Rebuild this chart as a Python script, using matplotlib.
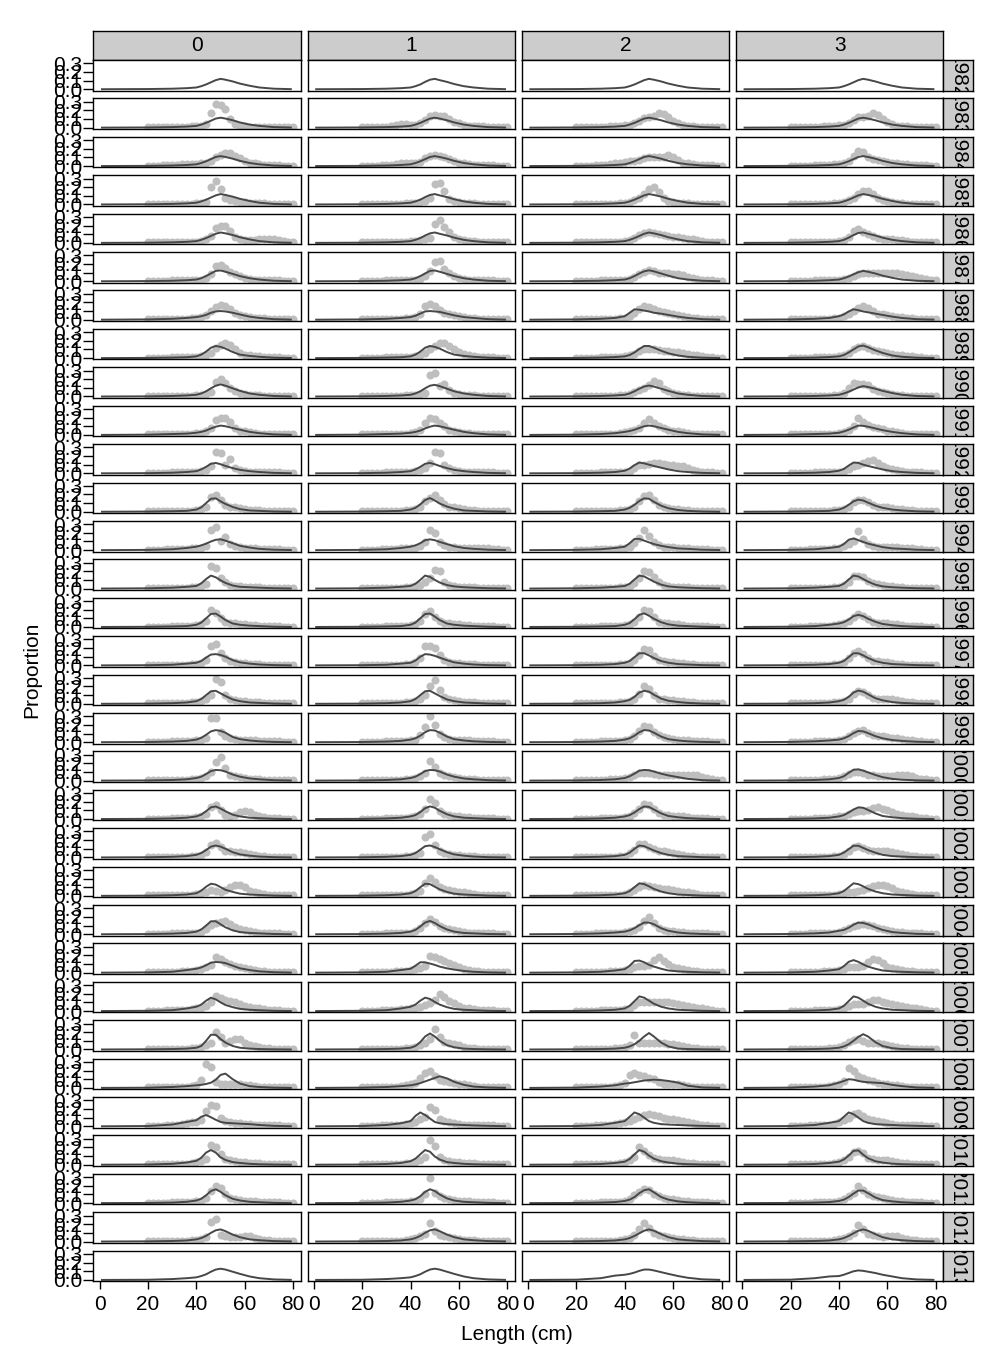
import numpy as np
import matplotlib
matplotlib.use("Agg")
import matplotlib.pyplot as plt

plt.rcParams['font.family'] = ['Liberation Sans', 'DejaVu Sans']

years = list(range(1982, 2014))
seasons = ["0", "1", "2", "3"]

# model curve vertices (cm) and observed length bins (cm)
line_len = [1, 20, 30, 36, 40, 42, 44, 46, 48, 50, 52, 55, 58, 62, 66, 72, 79]
obs_len = [20, 22, 24, 26, 28, 30, 32, 34, 36, 38, 40, 42, 44, 46, 48, 50,
           52, 54, 56, 58, 60, 62, 64, 66, 68, 70, 72, 74, 76, 78, 80]

# proportions in percent, one row per year 1982..2013
line_s0 = [
    [0,.2,.6,1.2,2, 3.5,5.5,8,10.5,12, 11,9,6.5,4,2, .6,.1],
    [0,.2,.6,1.2,2, 3.5,5.5,8,10.5,11.5, 10.5,8.5,6,3.5,2, .6,.1],
    [0,.2,.6,1.2,2, 3.5,5.5,8,10.5,11.5, 10.5,8.5,6,3.5,2, .6,.1],
    [0,.2,.6,1.2,2, 3.5,5.5,8,10.5,12, 11,9,6.5,4,2, .6,.1],
    [0,.2,.6,1.2,2, 3.5,5.5,8,10.5,12, 11,9,6.5,4,2, .6,.1],
    [0,.2,.6,1.2,2, 3.5,6,9,12,12.5, 11,8.5,6,3.5,2, .6,.1],
    [0,.3,1,2,3, 4,5.5,8,9.5,10, 9.5,8,6,3.5,2, .6,.1],
    [0,.2,.6,1,2, 4,7.5,12,14,13, 11,7,4,2.5,1.5, .5,.1],
    [0,.2,.6,1.2,2, 3.5,6,9.5,12.5,14, 12.5,9.5,6.5,3.5,2, .6,.1],
    [0,.3,1,1.5,2.5, 3.5,5,7.5,9.5,10.8, 10,8,6,3.5,2, .6,.1],
    [0,.2,.7,1.5,2.5, 4.5,7.5,11,12,10.5, 8.5,6,4,2.5,1.5, .5,.1],
    [0,.2,.6,1,2.5, 5,10,15,15.5,12, 9,5.5,3,1.5,1, .3,0],
    [0,.3,1,2.5,4, 5.5,7.5,10,12,12.5, 11,8,5,3,1.5, .5,.1],
    [0,.3,1,2,3, 6,11,15,13,9.5, 6.5,3.5,2,1.5,1, .4,.1],
    [0,.2,.6,1,2.5, 5,10,15,15.5,12, 8,4,2.5,1.5,1, .3,0],
    [0,.2,.7,2,3, 5,9,12.5,13,12, 10,6,3.5,2,1, .3,0],
    [0,.2,.7,1.5,3, 5.5,10,14.5,15,12, 9,5,3,1.5,1, .3,0],
    [0,.2,.7,1.5,3, 5,8.5,12.5,14,13, 11,6,3.5,2,1, .3,0],
    [0,.2,.7,1.5,3, 4.5,7.5,11,12.3,12, 10.5,7,4.5,2.5,1.5, .5,.1],
    [0,.2,.7,1.5,3, 5,9,13.5,14.5,12, 9,5,3,1.5,1, .3,0],
    [0,.2,.7,1.5,3, 5,8.5,12.5,13.8,12.5, 10,6,3.5,2,1, .3,0],
    [0,.2,.7,1.5,3, 6,10.5,14,13,10, 7,4.5,2.5,1.5,1, .3,0],
    [0,.2,.7,1.5,3, 5.5,10,15,15,11.5, 8,4.5,2.5,1.5,1, .3,0],
    [0,.3,1,3,4.5, 6,8.5,11.5,12.3,12, 11,8,5,3,1.5, .5,.1],
    [0,.3,1,3,5, 7.5,12,15.5,13.5,10, 7,4.5,2.5,1.5,1, .3,0],
    [0,.2,.5,1,2, 4,10,17,17,12, 8,4,2,1,.5, .2,0],
    [0,.2,1,2,3, 3.5,4.5,6,9.5,15, 16.5,10,5,2,1, .3,0],
    [0,.3,2,5,7, 11,13,10.5,7.5,5, 4,3.5,3,2.5,1.5, .5,.1],
    [0,.2,1,2.5,4.5, 8,14,17,14,8.5, 5.5,3,2,1,.5, .2,0],
    [0,.2,.6,1.5,3, 5,9,14,16,13, 9,5,3,1.5,1, .3,0],
    [0,.2,.6,1.2,2.5, 4,6.5,10,13,14, 12,8,5,2.5,1.5, .5,.1],
    [0,.2,1,2,3, 4.5,6.5,9.5,12,13, 12,9.5,7,4,2, .6,.1],
]
line_s1 = [
    [0,.2,.6,1.2,2, 3.5,5.5,8.5,11,12, 10.5,8.5,6,3.5,2, .6,.1],
    [0,.2,.6,1.2,2, 3.5,5.5,8,10.5,11.5, 10.5,8.5,6,3.5,2, .6,.1],
    [0,.2,.6,1.2,2, 3.5,5.5,8,10.5,11.5, 10.5,8.5,6,3.5,2, .6,.1],
    [0,.2,.6,1.2,2, 3.5,5.5,8.5,11,12, 10.5,8.5,6,3.5,2, .6,.1],
    [0,.2,.6,1.2,2, 3.5,5.5,8.5,11,12, 10.5,8.5,6,3.5,2, .6,.1],
    [0,.2,.6,1.2,2, 3.5,6,9,12,12.5, 11,8.5,6,3.5,2, .6,.1],
    [0,.3,1,2,3, 4.5,7,9.5,10,9.5, 9,7,5,3,2, .6,.1],
    [0,.2,.6,1,2, 4,7.5,12,14,13, 11,7,4,2.5,1.5, .5,.1],
    [0,.2,.6,1.2,2, 3.5,6,9.5,12.5,13.5, 12,9,6,3.5,2, .6,.1],
    [0,.3,1,1.5,2.5, 3.5,5,7.5,9.5,10.8, 10,8,6,3.5,2, .6,.1],
    [0,.2,.7,1.5,2.5, 4.5,7.5,11,12,10.5, 8.5,6,4,2.5,1.5, .5,.1],
    [0,.2,.6,1,2.5, 4.5,8.5,13.5,15.8,13, 9.5,6,3.5,1.5,1, .3,0],
    [0,.3,1,2.5,4, 5.5,8,11.5,12.5,11.5, 9.5,7,4.5,2.5,1.5, .5,.1],
    [0,.3,1,2,3, 5.5,10,15,13.5,10, 7,4,2.5,1.5,1, .4,.1],
    [0,.2,.6,1,2.5, 5,10,15,15.5,12, 8,4,2.5,1.5,1, .3,0],
    [0,.2,.7,2,3, 5.5,10,13,12.5,11, 9,6,3.5,2,1, .3,0],
    [0,.2,.7,1.5,3, 5.5,10,14.5,15,12, 9,5,3,1.5,1, .3,0],
    [0,.2,.7,1.5,3, 4.5,7.5,11.5,14,13.5, 11,6.5,3.5,2,1, .3,0],
    [0,.2,.7,1.5,3, 4.5,7.5,11,12.3,12, 10.5,7,4.5,2.5,1.5, .5,.1],
    [0,.2,.7,1.5,3, 4.5,8,12.5,14.6,13, 9.5,5.5,3,1.5,1, .3,0],
    [0,.2,.7,1.5,3, 5,9,13,13.8,12, 9.5,6,3.5,2,1, .3,0],
    [0,.2,.7,1.5,3, 5.5,10,14,13.5,10.5, 7.5,4.5,2.5,1.5,1, .3,0],
    [0,.2,.7,1.5,3, 5,9,13.5,15.4,13, 9.5,5.5,3,1.5,1, .3,0],
    [0,.3,1,3,4.5, 8,12,12,10.5,9, 7,5,3.5,2,1, .3,0],
    [0,.3,1,3,5, 7.5,12,15.5,14,10.5, 7.5,4.5,2.5,1.5,1, .3,0],
    [0,.2,.5,1,2, 4,8.5,15,18.5,15, 10,5,2.5,1,.5, .2,0],
    [0,.3,1,2,3, 4,5.5,7.5,9.5,11.5, 13.5,11,7,3.5,1.5, .5,.1],
    [0,.3,1.5,3.5,6, 12,16,13,9,5, 3.5,2.5,2,1.5,1, .5,.1],
    [0,.2,.8,2,4, 7,12,17,15,9.5, 6,3,2,1,.5, .2,0],
    [0,.2,.6,1.5,3, 4.5,8,13,16,14, 10,5.5,3,1.5,1, .3,0],
    [0,.2,.6,1.2,2.5, 4,6.5,10,13,14, 12,8,5,2.5,1.5, .5,.1],
    [0,.2,1,2,3, 4.5,6.5,9.5,12,13, 12,9.5,7,4,2, .6,.1],
]
line_s2 = [
    [0,.2,.6,1.2,2, 3.5,5.5,8,10.5,12, 11,9,6.5,4,2, .6,.1],
    [0,.2,.6,1.2,2, 3.5,5.5,8,10.5,11.5, 10.5,8.5,6,3.5,2, .6,.1],
    [0,.2,.6,1.2,2, 3.5,5.5,8,10.5,11.5, 10.5,8.5,6,3.5,2, .6,.1],
    [0,.2,.6,1.2,2, 3.5,5.5,8,10.5,12, 11,9,6.5,4,2, .6,.1],
    [0,.2,.6,1.2,2, 3.5,5.5,8,10.5,12, 11,9,6.5,4,2, .6,.1],
    [0,.2,.6,1.2,2, 3.5,6,9,11.5,12.7, 11.5,9,6.5,3.5,2, .6,.1],
    [0,.3,1,2,4, 8,12,11.5,10.5,9.5, 8,7,5.5,3.5,2, .6,.1],
    [0,.2,.6,1.2,2, 3.5,6.5,10.5,14,14, 12,8.5,5.5,3,1.5, .5,.1],
    [0,.2,.6,1.2,2, 3.5,6,9,11.5,12.7, 11.5,9,6.5,3.5,2, .6,.1],
    [0,.3,1,2,3.5, 4.5,6,8,10,10.8, 10,8,6,3.5,2, .6,.1],
    [0,.2,.7,1.5,3, 5.5,9.5,12.5,11.5,10, 8.5,6.5,4.5,2.5,1.5, .5,.1],
    [0,.2,.6,1,2.5, 4.5,8,12.5,15.5,15, 11.5,7,4,2,1, .3,0],
    [0,.3,1,2.5,4, 8,13,13,11,9, 7,5,3.5,2,1.5, .5,.1],
    [0,.3,1,2,3, 5.5,10.5,15,14,11, 8,4.5,2.5,1.5,1, .4,.1],
    [0,.2,.6,1,2.5, 4.5,9,14,15.8,13, 9.5,5.5,3,1.5,1, .3,0],
    [0,.2,.7,1.5,3, 5,9.5,14,14,11.5, 8.5,5,3,1.5,1, .3,0],
    [0,.2,.7,1.5,3, 4.5,8,13,15,14, 10.5,6,3.5,2,1, .3,0],
    [0,.2,.7,1.5,3, 4.5,7.5,11.5,14,13.5, 11,6.5,3.5,2,1, .3,0],
    [0,.2,.7,1.5,3, 5,8,11.5,12.3,12, 10.5,8,6,4,2, .5,.1],
    [0,.2,.7,1.5,3, 4.5,7.5,11.5,14.5,14, 11,6.5,3.5,2,1, .3,0],
    [0,.2,.7,1.5,3, 5.5,10,13.8,13,10.5, 8,5,3,1.5,1, .3,0],
    [0,.2,.7,1.5,3, 5.5,10,14.5,13.5,11, 8,5,3,1.5,1, .3,0],
    [0,.3,1,2,3, 4.5,7,10.5,13.5,13.5, 11.5,7,4,2,1, .3,0],
    [0,.3,1,2.5,4, 8,13.5,14,12,9, 7,4.5,2.5,1.5,1, .4,.1],
    [0,.2,.7,1.5,3, 6,11.5,17,15.5,12, 8.5,5,3,1.5,1, .3,0],
    [0,.2,.5,1,2, 3.5,6,10,15,19, 15,8,3.5,1,.5, .2,0],
    [0,.3,1.5,3,5, 5.5,6.5,7.5,8.5,9, 9.5,9,8,6,2.5, .5,.1],
    [0,.3,1.5,4,6, 11,16,14,10,6, 4,2.5,2,1.5,1, .5,.1],
    [0,.2,.8,2,3.5, 6.5,12,17,15,10.5, 7,4,2.5,1.2,.6, .2,0],
    [0,.2,.6,1.2,2.5, 4,7,11.5,15,16, 12.5,7,4,2,1, .3,0],
    [0,.2,.6,1.2,2.5, 4,6.5,9.5,12.5,14, 12.5,8.5,5,2.5,1.5, .5,.1],
    [0,.3,2,5,6, 7,8.5,10.5,12,12, 11,9,7,4.5,2.5, .7,.1],
]
line_s3 = [
    [0,.2,.6,1.2,2, 3.5,5.5,8,10.5,12, 11,9,6.5,4,2, .6,.1],
    [0,.2,.6,1.2,2, 3.5,5.5,8,10.5,11.5, 10.5,8.5,6,3.5,2, .6,.1],
    [0,.2,.6,1.2,2, 3.5,5.5,8,10.5,11.5, 10.5,8.5,6,3.5,2, .6,.1],
    [0,.2,.6,1.2,2, 3.5,5.5,8,10.5,12, 11,9,6.5,4,2, .6,.1],
    [0,.2,.6,1.2,2, 3.5,6,9,11.5,12, 10.5,8.5,6,3.5,2, .6,.1],
    [0,.2,.6,1.2,2, 3.5,5.5,8,10.5,12, 11,9,6.5,4,2, .6,.1],
    [0,.3,1,2,4, 6,9.5,12,11,9.5, 8.5,7,5.5,3.5,2, .6,.1],
    [0,.2,.6,1.2,2, 3.5,6.5,10,13.5,14.5, 12.5,9,6,3,1.5, .5,.1],
    [0,.2,.6,1.2,2, 3.5,5.5,8,10.5,12, 11,9,6.5,4,2, .6,.1],
    [0,.3,1,1.5,2.5, 4,6,8.5,10.8,10.5, 9.5,7.5,5.5,3.5,2, .6,.1],
    [0,.2,.7,1.5,3, 5,9,12.5,12,10, 8.5,6.5,4.5,2.5,1.5, .5,.1],
    [0,.2,.6,1,2.5, 4.5,8,12,14,13, 10.5,7,4.5,2.5,1.5, .5,.1],
    [0,.3,1,2.5,4, 7,12,13.5,11.5,9.5, 7.5,5.5,3.5,2,1.5, .5,.1],
    [0,.3,1,2,3, 5.5,10.5,15,14,11, 8,4.5,2.5,1.5,1, .4,.1],
    [0,.3,1,2.5,4, 5.5,8.5,12.5,14,12.5, 9.5,6,3.5,2,1, .3,0],
    [0,.2,.7,1.5,3, 5,9.5,14,14,11.5, 8.5,5,3,1.5,1, .3,0],
    [0,.2,.7,1.5,3, 4.5,8,13,15.3,14, 11,6.5,4,2,1, .3,0],
    [0,.3,1,2,3, 4.5,7,10.5,13,12.5, 10.5,7,4.5,2.5,1.5, .5,.1],
    [0,.2,.7,1.5,3, 5,9,12.5,13,11.5, 9.5,6.5,4,2,1, .3,0],
    [0,.2,.7,1.5,3, 4.5,7.5,11,13.5,13, 10.5,6.5,3.5,2,1, .3,0],
    [0,.2,.7,1.5,3, 5.5,9.5,13.5,13.5,11, 8.5,5.5,3,1.5,1, .3,0],
    [0,.2,.7,1.5,3, 5.5,10,14.5,13.5,11, 8,5,3,1.5,1, .3,0],
    [0,.3,1,2,4, 5,7.5,11,13.5,13, 11.5,8,5,2.5,1.5, .5,.1],
    [0,.3,1,2.5,4, 7.5,12.5,14.5,12.5,9.5, 7,4.5,2.5,1.5,1, .4,.1],
    [0,.2,.7,1.5,3, 6,11.5,17,15.5,12, 8.5,5,3,1.5,1, .3,0],
    [0,.2,.5,1,2, 3.5,6,10,14.5,17.7, 15,8.5,4,1.5,.5, .2,0],
    [0,.3,1.5,3,6, 8,10,9.5,8,7, 6.5,6,5.5,3.5,2, .5,.1],
    [0,.3,1.5,4,6, 11,16,14,10,6, 4,2.5,2,1.5,1, .5,.1],
    [0,.2,.8,2,3.5, 6,10.5,16,16.5,11.5, 7.5,4,2.5,1.2,.6, .2,0],
    [0,.2,.6,1.2,2.5, 4,7,11,14.5,14.5, 11.5,6.5,3.5,2,1, .3,0],
    [0,.2,.6,1.2,2.5, 4,6.5,9.5,12.5,14, 12.5,8.5,5,2.5,1.5, .5,.1],
    [0,.3,2,4,4.5, 6,8,10,11,10.5, 9.5,8,6,4,2, .6,.1],
]

# observed proportions in percent, one row per year 1983..2012
obs_years = list(range(1983, 2013))
obs_s0 = [
    [.5,.5,.5,.5,.5,1,1,1,1,1.5,1.5,2,4,17,27,26,22,10,4,2,1.5,1,1,1,1,.5,.5,.5,.5,.5,.5],
    [.5,.5,.5,1,1,1.5,1.5,2,2,2,2,3,4,6,11,13,15,15,12,9,6,4,3,2,1.5,1,1,1,.5,.5,.5],
    [.5,.5,.5,.5,.5,1,1,1,1,1,1.5,2,3,20,27,18,7,5,4,3,3,2,2,1.5,1.5,1,1,1,1,.5,.5],
    [.5,.5,.5,.5,.5,1,1,1,1,1,1.5,2,4,8,17,20,19,14,7,4,3,3,3,4,4,4,4,3,2,1,.5],
    [.5,.5,.5,.5,.5,1,1,1,1,1,1.5,2,4,8,18,19,15,11,8,6,4,3,2,2,1.5,1,1,1,.5,.5,.5],
    [.5,.5,.5,.5,.5,1,1,1,1,1.5,2,3,5,10,15,17,16,12,8,5,4,3,2,2,1.5,1,1,1,.5,.5,.5],
    [.5,.5,.5,.5,.5,1,1,1,1,1,1.5,2,3,6,12,15,17,15,10,6,4,3,2,2,1.5,1,1,1,.5,.5,.5],
    [.5,.5,.5,.5,.5,1,1,1,1,1,1.5,2,3,5,17,20,16,10,6,4,3,2,2,1.5,1,1,1,1,.5,.5,.5],
    [.5,.5,.5,.5,.5,1,1,1,1,1.5,2,2,4,8,17,19,19,15,8,5,4,3,2,1.5,1,1,1,1,.5,.5,.5],
    [.5,.5,.5,.5,.5,1,1,1,1,1.5,2,3,4,8,25,24,10,17,6,4,3,2,2,1.5,1,1,1,1,.5,.5,.5],
    [.5,.5,.5,.5,.5,1,1,1,1,1,1.5,3,6,17,19,14,8,6,5,4,3,2,2,1.5,1,1,1,1,.5,.5,.5],
    [.5,.5,.5,.5,1,1,1,1.5,1.5,2,3,3,5,23,27,10,15,7,5,4,3,2,2,1.5,1,1,1,1,.5,.5,.5],
    [.5,.5,.5,.5,.5,1,1,1,1,1.5,2,3,5,26,24,12,7,4,3,3,2,2,1.5,1.5,1,1,1,1,.5,.5,.5],
    [.5,.5,.5,.5,.5,1,1,1,1,1.5,2,3,7,20,16,10,6,4,4,3,3,2,2,1.5,1,1,1,1,.5,.5,.5],
    [.5,.5,.5,.5,.5,1,1,1,1,1.5,2,3,6,22,25,14,8,5,4,3,3,2,2,1.5,1,1,1,1,.5,.5,.5],
    [.5,.5,.5,.5,.5,1,1,1,1,1.5,2,3,6,10,29,25,10,6,4,3,3,2,2,1.5,1,1,1,1,.5,.5,.5],
    [.5,.5,.5,.5,.5,1,1,1,1,1.5,2,3,5,28,28,12,7,5,4,3,3,2,2,1.5,1,1,1,1,.5,.5,.5],
    [.5,.5,.5,.5,.5,1,1,1,1,1.5,2,3,5,10,22,27,14,7,5,4,3,2,2,1.5,1,1,1,1,.5,.5,.5],
    [.5,.5,.5,.5,.5,1,1,1,1,1.5,2,3,6,14,16,10,5,4,5,8,9,8,5,3,2,1.5,1,1,.5,.5,.5],
    [.5,.5,.5,.5,.5,1,1,1,1,1.5,2,3,6,14,17,12,8,7,6,6,5,4,3,2,1.5,1,1,1,.5,.5,.5],
    [.5,.5,.5,.5,.5,1,1,1,1,1.5,2,3,5,7,6,5,7,10,12,13,10,6,4,3,2,1.5,1,1,.5,.5,.5],
    [.5,.5,.5,.5,.5,1,1,1,1,1.5,2,3,6,11,13,14,15,12,8,6,5,4,3,2,1.5,1,1,1,.5,.5,.5],
    [.5,.5,.5,.5,1,1,1,1.5,1.5,2,3,4,6,9,18,16,12,10,8,7,5,4,3,2,1.5,1,1,1,.5,.5,.5],
    [.5,.5,.5,.5,1,1,1,1.5,1.5,2,3,4,6,10,17,15,13,12,10,8,6,5,4,3,2,1.5,1,1,.5,.5,.5],
    [.5,.5,.5,.5,.5,1,1,1,1,1.5,2,3,5,7,20,14,8,10,12,12,8,5,4,3,2,1.5,1,1,.5,.5,.5],
    [.5,.5,.5,.5,1,1,1,1.5,1.5,2,3,9,28,24,7,5,5,5,4,4,3,3,2,1.5,1,1,1,1,.5,.5,.5],
    [.5,.5,.5,.5,1,1.5,2,3,4,5,5,7,18,25,23,10,6,5,4,4,3,3,2,1.5,1,1,1,1,.5,.5,.5],
    [.5,.5,.5,.5,.5,1,1,1,1,1.5,3,4,7,23,21,12,7,5,4,3,3,2,2,1.5,1,1,1,1,.5,.5,.5],
    [.5,.5,.5,.5,.5,1,1,1,1,1.5,2,3,6,14,20,18,10,6,5,4,3,2,2,1.5,1,1,1,1,.5,.5,.5],
    [.5,.5,.5,.5,.5,1,1,1,1,1.5,2,3,5,22,26,8,6,5,5,5,6,6,4,3,2,1.5,1,1,.5,.5,.5],
]
obs_s1 = [
    [.5,.5,.5,1,1,1,2,3,4,4,3,3,5,9,13,15,14,13,10,7,5,3,2,2,1.5,1.5,1,1,1,.5,.5],
    [.5,.5,.5,.5,1,1,1,2,3,3,3,3,5,9,12,13,12,10,8,6,4,3,2,1.5,1,1,1,1,.5,.5,.5],
    [.5,.5,.5,.5,.5,1,1,1,1,1.5,2,2,3,4,8,24,25,15,6,4,3,2,2,1.5,1,1,1,1,.5,.5,.5],
    [.5,.5,.5,.5,.5,1,1,1,1,1.5,2,2,3,4,6,22,26,18,13,7,4,3,2,2,1.5,1,1,1,.5,.5,.5],
    [.5,.5,.5,.5,.5,1,1,1,1,1.5,2,2,3,6,12,22,23,14,9,6,4,3,2,1.5,1,1,1,1,.5,.5,.5],
    [.5,.5,.5,.5,.5,1,1,1,1,1.5,2,3,7,16,18,16,11,8,6,5,4,3,2,1.5,1,1,1,1,.5,.5,.5],
    [.5,.5,.5,.5,.5,1,1,1,1,1,1.5,2,3,6,10,14,18,17,14,10,7,5,3,2,1.5,1,1,1,.5,.5,.5],
    [.5,.5,.5,.5,.5,1,1,1,1,1.5,2,2,3,4,25,27,12,15,8,4,3,2,2,1.5,1,1,1,1,.5,.5,.5],
    [.5,.5,.5,.5,.5,1,1,1,1,1.5,2,3,6,14,20,18,14,10,6,4,3,2,2,1.5,1,1,1,1,.5,.5,.5],
    [.5,.5,.5,.5,.5,1,1,1,1,1.5,2,3,4,6,12,25,24,10,6,4,3,2,2,1.5,1,1,1,1,.5,.5,.5],
    [.5,.5,.5,.5,.5,1,1,1,1,1.5,2,3,6,12,16,19,14,9,6,5,4,3,2,1.5,1,1,1,1,.5,.5,.5],
    [.5,.5,.5,.5,1,1,1,1.5,2,2,3,3,5,9,23,20,9,6,4,4,3,3,3,3,3,2,2,1,1,.5,.5],
    [.5,.5,.5,.5,.5,1,1,1,1,1.5,2,3,4,8,12,21,20,8,4,3,2,2,1.5,1.5,1,1,1,1,.5,.5,.5],
    [.5,.5,.5,.5,.5,1,1,1,1,1.5,2,3,7,15,18,12,7,5,4,3,3,2,2,1.5,1,1,1,1,.5,.5,.5],
    [.5,.5,.5,.5,.5,1,1,1,1,1.5,2,4,8,22,22,20,12,6,4,3,3,2,2,1.5,1,1,1,1,.5,.5,.5],
    [.5,.5,.5,.5,.5,1,1,1,1,1.5,2,3,5,10,20,28,16,8,5,4,3,2,2,1.5,1,1,1,1,.5,.5,.5],
    [.5,.5,.5,.5,.5,1,1,1,1,1.5,2,3,8,18,30,20,10,6,4,3,3,2,2,1.5,1,1,1,1,.5,.5,.5],
    [.5,.5,.5,.5,.5,1,1,1,1,1.5,2,3,5,9,23,16,9,6,5,4,3,2,2,1.5,1,1,1,1,.5,.5,.5],
    [.5,.5,.5,.5,.5,1,1,1,1,1.5,2,3,6,12,23,18,9,6,5,4,3,2,2,1.5,1,1,1,1,.5,.5,.5],
    [.5,.5,.5,.5,.5,1,1,1,1,1.5,2,3,5,24,27,14,8,5,4,3,3,2,2,1.5,1,1,1,1,.5,.5,.5],
    [.5,.5,.5,.5,.5,1,1,1,1,1.5,2,3,6,15,21,16,10,8,7,6,5,4,3,2,1.5,1,1,1,.5,.5,.5],
    [.5,.5,.5,.5,.5,1,1,1,1,1.5,2,4,7,13,18,14,9,7,6,5,4,3,2,2,1.5,1,1,1,.5,.5,.5],
    [.5,.5,.5,.5,1,1,1,1.5,2,2,3,4,5,8,19,18,16,14,11,9,6,4,3,2,1.5,1,1,1,.5,.5,.5],
    [.5,.5,.5,.5,1,1,1,1.5,2,2,3,4,5,7,9,13,20,16,12,9,6,4,3,2,1.5,1,1,1,.5,.5,.5],
    [.5,.5,.5,.5,.5,1,1,1,1,1.5,2,3,5,8,12,24,14,9,7,6,5,3,2,1.5,1,1,1,1,.5,.5,.5],
    [.5,.5,.5,.5,1,1,1,1.5,2,3,4,6,12,17,19,14,9,8,7,6,5,4,3,2,1.5,1,1,1,.5,.5,.5],
    [.5,.5,.5,.5,1,1,1,1.5,2,3,4,5,8,11,22,19,9,6,5,4,3,2,2,1.5,1,1,1,1,.5,.5,.5],
    [.5,.5,.5,.5,.5,1,1,1,1,1.5,2,3,6,9,29,22,9,6,4,3,3,2,2,1.5,1,1,1,1,.5,.5,.5],
    [.5,.5,.5,.5,.5,1,1,1,1,1.5,2,3,5,10,29,12,8,6,5,4,3,2,2,1.5,1,1,1,1,.5,.5,.5],
    [.5,.5,.5,.5,.5,1,1,1,1,1.5,3,4,6,9,21,12,7,6,5,4,3,2,2,1.5,1,1,1,1,.5,.5,.5],
]
obs_s2 = [
    [.5,.5,.5,.5,.5,1,1,1.5,2,2,2.5,3,5,8,11,12,14,17,16,12,8,5,3,2,1.5,1,1,1,.5,.5,.5],
    [.5,.5,.5,.5,1,1,1.5,2,3,4,5,6,6,7,9,10,10,10,11,13,11,7,4,3,2,1.5,1,1,1,.5,.5],
    [.5,.5,.5,.5,.5,1,1,1,1,1.5,2,3,5,8,12,18,20,14,7,4,3,2,2,1.5,1,1,1,1,.5,.5,.5],
    [.5,.5,.5,.5,.5,1,1,1,1,1.5,2,3,6,9,11,12,11,10,9,8,7,7,6,5,4,3,2,1.5,1,.5,.5],
    [.5,.5,.5,.5,.5,1,1,1,1,1.5,2,3,5,8,11,13,12,10,9,9,8,8,7,5,4,3,2,1.5,1,.5,.5],
    [.5,.5,.5,.5,.5,1,1,1,1,1.5,2,4,8,12,16,15,12,10,9,8,6,5,4,3,2,1.5,1,1,.5,.5,.5],
    [.5,.5,.5,.5,.5,1,1,1,1.5,1.5,2,3,5,8,11,11,10,9,8,8,7,7,6,5,4,3,2,1.5,1,.5,.5],
    [.5,.5,.5,.5,.5,1,1,1,1,1.5,2,3,5,8,10,13,18,16,9,6,4,3,2,1.5,1,1,1,1,.5,.5,.5],
    [.5,.5,.5,.5,.5,1,1,1,1.5,2,3,4,6,8,14,18,14,10,8,6,5,4,3,2,1.5,1,1,1,.5,.5,.5],
    [.5,.5,.5,.5,.5,1,1,1,1,1.5,2,3,6,10,10,11,12,12,11,10,10,9,8,6,4,3,2,1.5,1,.5,.5],
    [.5,.5,.5,.5,.5,1,1,1,1,1.5,2,3,6,12,18,19,13,8,5,4,3,3,2,1.5,1,1,1,1,.5,.5,.5],
    [.5,.5,.5,.5,1,1,1,1.5,1.5,2,3,4,8,14,23,16,9,6,4,4,4,3,3,2,1.5,1,1,1,.5,.5,.5],
    [.5,.5,.5,.5,.5,1,1,1,1,1.5,2,3,6,12,20,19,13,7,4,3,2,2,1.5,1.5,1,1,1,1,.5,.5,.5],
    [.5,.5,.5,.5,.5,1,1,1,1,1.5,2,3,6,12,20,19,11,6,4,4,3,3,2,1.5,1,1,1,1,.5,.5,.5],
    [.5,.5,.5,.5,.5,1,1,1,1,1.5,2,3,6,12,19,18,11,6,5,4,4,3,3,2,1.5,1,1,1,.5,.5,.5],
    [.5,.5,.5,.5,.5,1,1,1,1,1.5,2,3,5,11,21,17,10,6,5,4,4,3,3,2,1.5,1,1,1,.5,.5,.5],
    [.5,.5,.5,.5,.5,1,1,1,1,1.5,2,4,7,13,19,17,12,8,6,5,4,3,3,2,1.5,1,1,1,.5,.5,.5],
    [.5,.5,.5,.5,1,1,1,1.5,1.5,2,3,4,7,9,9,9,8,7,6,6,6,6,6,7,7,6,4,3,2,1,.5],
    [.5,.5,.5,.5,.5,1,1,1,1,1.5,2,4,7,12,17,16,11,7,5,5,4,3,3,2,1.5,1,1,1,.5,.5,.5],
    [.5,.5,.5,.5,.5,1,1,1,1,1.5,2,5,9,15,15,12,10,8,7,6,5,4,3,2,1.5,1,1,1,.5,.5,.5],
    [.5,.5,.5,.5,.5,1,1,1,1,1.5,2,4,7,10,12,11,10,9,8,8,7,6,5,4,3,2,1.5,1,.5,.5,.5],
    [.5,.5,.5,.5,1,1,1,1.5,1.5,2,3,4,5,8,15,20,13,7,5,4,4,3,3,2,1.5,1,1,1,.5,.5,.5],
    [.5,.5,.5,.5,1,1,1,1.5,2,2,3,4,6,8,8,9,15,18,14,10,7,5,4,3,2,1.5,1,1,.5,.5,.5],
    [.5,.5,.5,.5,.5,1,1,1,1,1.5,2,4,7,10,11,11,10,11,11,10,9,8,7,6,5,4,3,2,1,.5,.5],
    [.5,.5,.5,.5,.5,1,1,1,1.5,2,3,5,17,8,7,7,7,7,7,6,6,5,4,3,2,1.5,1,1,.5,.5,.5],
    [.5,.5,.5,.5,1,1,1,1.5,2,3,6,15,17,15,14,12,10,7,5,4,4,4,3,2,1.5,1,1,1,.5,.5,.5],
    [.5,.5,.5,.5,1,1,1.5,2,3,4,5,6,8,11,13,14,13,12,10,9,8,7,6,5,4,3,2,1,.5,.5,.5],
    [.5,.5,.5,.5,.5,1,1,1,1,1.5,3,5,9,20,16,11,8,7,6,6,5,4,3,2,1.5,1,1,1,.5,.5,.5],
    [.5,.5,.5,.5,.5,1,1,1,1,1.5,3,5,9,13,16,15,11,8,6,5,5,4,3,2,1.5,1,1,1,.5,.5,.5],
    [.5,.5,.5,.5,.5,1,1,1,1,1.5,3,4,7,15,21,16,10,7,6,5,4,3,3,2,1.5,1,1,1,.5,.5,.5],
]
obs_s3 = [
    [.5,.5,.5,.5,.5,1,1,1.5,2,2,2.5,3,5,9,12,12,14,17,15,10,6,4,2,2,1.5,1,1,1,.5,.5,.5],
    [.5,.5,.5,.5,.5,1,1,1,1.5,2,2,3,6,12,17,16,11,8,7,6,5,4,3,2,2,1.5,1,1,1,.5,.5],
    [.5,.5,.5,.5,.5,1,1,1,1,1.5,2,3,5,8,12,15,16,12,8,5,4,3,2,1.5,1,1,1,1,.5,.5,.5],
    [.5,.5,.5,.5,.5,1,1,1,1,1.5,2,3,7,14,16,13,10,8,6,5,4,4,3,3,2,1.5,1,1,.5,.5,.5],
    [.5,.5,.5,.5,.5,1,1,1,1,1.5,2,3,4,6,8,10,10,10,10,10,10,9,9,8,7,6,5,4,3,2,1],
    [.5,.5,.5,.5,.5,1,1,1,1,1.5,2,4,7,10,13,16,14,10,7,6,5,4,3,3,2,1.5,1,1,.5,.5,.5],
    [.5,.5,.5,.5,.5,1,1,1,1,1.5,2,3,6,10,13,14,12,9,8,7,6,5,4,3,2,2,1.5,1,.5,.5,.5],
    [.5,.5,.5,.5,.5,1,1,1,1,1.5,2,4,10,16,14,15,13,9,6,5,4,3,2,1.5,1,1,1,1,.5,.5,.5],
    [.5,.5,.5,.5,.5,1,1,1,1,1.5,2,3,6,10,19,15,11,9,8,7,5,4,3,2,1.5,1,1,1,.5,.5,.5],
    [.5,.5,.5,.5,.5,1,1,1,1,1.5,2,3,5,8,10,12,14,15,12,8,6,5,4,3,2,1.5,1,1,.5,.5,.5],
    [.5,.5,.5,.5,.5,1,1,1,1,1.5,2,3,6,11,14,13,11,8,6,5,5,4,3,3,2,1.5,1,1,.5,.5,.5],
    [.5,.5,.5,.5,1,1,1,1.5,1.5,2,3,5,7,10,22,13,7,5,4,4,4,4,4,3,3,2,1.5,1,.5,.5,.5],
    [.5,.5,.5,.5,.5,1,1,1,1,1.5,2,4,7,14,15,13,9,6,5,4,3,3,2,1.5,1,1,1,1,.5,.5,.5],
    [.5,.5,.5,.5,1,1,1,1.5,1.5,2,3,4,7,12,15,13,9,6,5,4,4,3,3,2,1.5,1,1,1,.5,.5,.5],
    [.5,.5,.5,.5,.5,1,1,1,1,1.5,2,4,8,14,17,13,8,5,5,4,4,3,2,1.5,1,1,1,1,.5,.5,.5],
    [.5,.5,.5,.5,.5,1,1,1,1,1.5,2,3,6,11,15,14,10,7,6,6,5,5,4,3,2,1.5,1,1,.5,.5,.5],
    [.5,.5,.5,.5,.5,1,1,1,1,1.5,2,4,7,11,13,14,11,8,7,7,6,5,5,4,3,2,1.5,1,.5,.5,.5],
    [.5,.5,.5,.5,1,1,1,1.5,2,2,3,5,8,10,10,9,7,6,5,5,5,5,6,7,6,5,3,2,1.5,1,.5],
    [.5,.5,.5,.5,.5,1,1,1,1.5,2,3,4,6,8,9,9,10,13,14,12,10,8,6,5,4,3,2,1.5,1,.5,.5],
    [.5,.5,.5,.5,.5,1,1,1,1,1.5,2,4,7,12,13,11,9,8,8,7,7,6,5,4,3,2,1.5,1,.5,.5,.5],
    [.5,.5,.5,.5,.5,1,1,1,1,1.5,2,3,4,5,6,7,9,11,13,13,11,9,6,4,3,2,1.5,1,.5,.5,.5],
    [.5,.5,.5,.5,1,1,1,1.5,1.5,2,3,5,7,9,11,12,11,9,7,6,5,4,3,3,2,1.5,1,1,.5,.5,.5],
    [.5,.5,.5,.5,1,1,1,1.5,2,2,3,4,6,7,7,8,12,16,15,11,7,5,4,3,2,1.5,1,1,.5,.5,.5],
    [.5,.5,.5,.5,.5,1,1,1,1,1.5,2,4,6,8,8,8,10,13,13,11,9,8,7,6,5,4,3,2,1,.5,.5],
    [.5,.5,.5,.5,.5,1,1,1,1.5,2,3,5,9,11,12,10,8,7,7,6,5,4,3,2,1.5,1,1,1,.5,.5,.5],
    [.5,.5,.5,.5,1,1,1,1.5,2,3,4,8,23,20,14,11,9,8,6,5,4,3,3,2,1.5,1,1,1,.5,.5,.5],
    [.5,.5,.5,.5,1,1,1,1.5,2,3,5,7,10,14,15,12,9,7,6,5,4,3,2,1.5,1,1,1,1,.5,.5,.5],
    [.5,.5,.5,.5,.5,1,1,1,1,1.5,3,5,9,15,16,13,8,7,6,6,5,4,3,2,1.5,1,1,1,.5,.5,.5],
    [.5,.5,.5,.5,.5,1,1,1,1,1.5,3,5,8,12,20,15,10,8,7,6,5,4,3,2,1.5,1,1,1,.5,.5,.5],
    [.5,.5,.5,.5,.5,1,1,1,1,1.5,3,4,6,10,19,14,9,7,6,5,6,6,6,4,3,2,1.5,1,.5,.5,.5],
]

lines = [line_s0, line_s1, line_s2, line_s3]
obs = [obs_s0, obs_s1, obs_s2, obs_s3]

W, H = 1003, 1358
fig = plt.figure(figsize=(W / 100, H / 100), dpi=100)


def box(x0, y0, w, h):
    # pixel box measured from the top-left corner -> figure fraction
    return [x0 / W, 1 - (y0 + h) / H, w / W, h / H]


col_x0, col_step, col_w = 93.5, 214.2, 207
row_y0, row_step, row_h = 60, 38.41, 30.6
strip_col = "#CCCCCC"
fs = 15

for j, s in enumerate(seasons):
    x0 = col_x0 + col_step * j
    sax = fig.add_axes(box(x0, 30.5, col_w, 29.5))
    sax.set_facecolor(strip_col)
    sax.set_xticks([])
    sax.set_yticks([])
    for sp in sax.spines.values():
        sp.set_linewidth(1.0)
    sax.text(0.5, 0.5, s, ha="center", va="center", fontsize=fs, transform=sax.transAxes)

    for i, yr in enumerate(years):
        y0 = row_y0 + row_step * i
        ax = fig.add_axes(box(x0, y0, col_w, row_h))
        if yr in obs_years:
            k = obs_years.index(yr)
            ax.plot(obs_len, np.array(obs[j][k]) / 100, "o", color="#BEBEBE",
                    ms=5.8, mew=0)
        ax.plot(line_len, np.array(lines[j][i]) / 100, color="#474747", lw=1.4)
        ax.set_xlim(-2.5, 83)
        ax.set_ylim(-0.016, 0.338)
        for sp in ax.spines.values():
            sp.set_linewidth(1.0)
        ax.set_xticks([0, 20, 40, 60, 80])
        ax.set_yticks([0, 0.1, 0.2, 0.3])
        ax.set_yticklabels(["0.0", "0.1", "0.2", "0.3"])
        ax.tick_params(axis="y", direction="out", length=7, width=1, labelsize=fs, pad=1,
                       left=(j == 0), labelleft=(j == 0))
        last = i == len(years) - 1
        ax.tick_params(axis="x", direction="out", length=5.5, width=1, labelsize=fs, pad=4,
                       bottom=last, labelbottom=last)

        if j == 3:
            rax = fig.add_axes(box(943, y0, 30, row_h))
            rax.set_facecolor(strip_col)
            rax.set_xticks([])
            rax.set_yticks([])
            for sp in rax.spines.values():
                sp.set_linewidth(1.0)
            rax.text(0.5, 0.5, str(yr), ha="center", va="center", rotation=270,
                     fontsize=fs, transform=rax.transAxes, clip_on=True)

fig.text(517 / W, 1 - 1335 / H, "Length (cm)", ha="center", va="center", fontsize=fs)
fig.text(32 / W, 1 - 670 / H, "Proportion", ha="center", va="center", rotation=90,
         fontsize=fs)

fig.savefig("out.png", dpi=100)
